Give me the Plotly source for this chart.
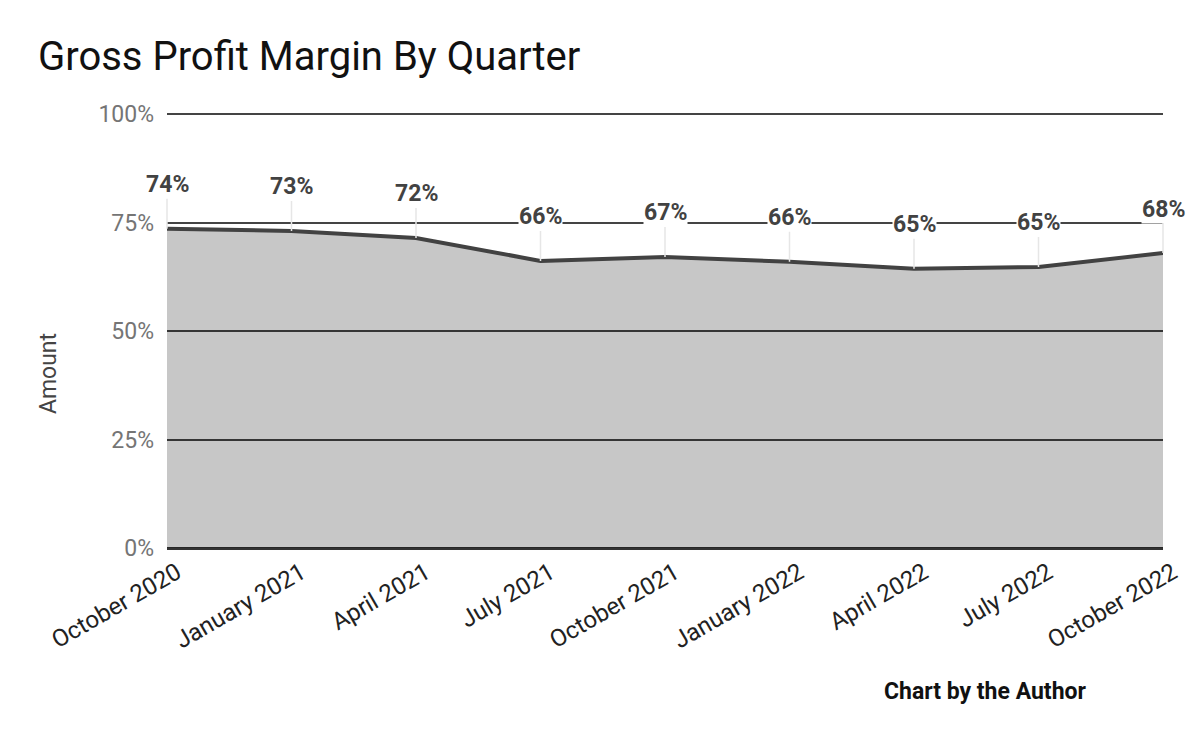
"""Gross profit margin by quarter, area chart (Plotly, saved as HTML)."""

import plotly.graph_objects as go

QUARTERS = [
    "October 2020", "January 2021", "April 2021", "July 2021", "October 2021",
    "January 2022", "April 2022", "July 2022", "October 2022",
]
MARGIN = [73.6, 73.1, 71.5, 66.2, 67.1, 66.0, 64.4, 64.8, 68.0]
LABELS = ["74%", "73%", "72%", "66%", "67%", "66%", "65%", "65%", "68%"]
Y_TICKS = [0, 25, 50, 75, 100]
Y_TICK_TEXT = ["0%", "25%", "50%", "75%", "100%"]

FONT = "Roboto, Arial, sans-serif"

fig = go.Figure(
    go.Scatter(
        x=QUARTERS,
        y=MARGIN,
        mode="lines",
        fill="tozeroy",
        # translucent fill so the gridlines stay visible through it
        fillcolor="rgba(0,0,0,0.22)",
        line=dict(color="#424242", width=4),
        hoverinfo="skip",
    )
)

for q, v, lab in zip(QUARTERS, MARGIN, LABELS):
    fig.add_annotation(
        x=q, y=v, text=f"<b>{lab}</b>",
        showarrow=True, arrowhead=0, arrowwidth=1.5, arrowcolor="#e6e6e6",
        ax=0, ay=-44, standoff=0,
        bgcolor="white", borderpad=0,
        font=dict(family=FONT, size=23, color="#424242"),
    )

fig.add_annotation(
    text="<b>Chart by the Author</b>",
    xref="paper", yref="paper", x=0.821, y=-0.329,
    xanchor="center", yanchor="middle",
    showarrow=False, font=dict(family=FONT, size=23, color="#111111"),
)

# axis title sits below the plot's middle in the original, so place it by hand
fig.add_annotation(
    text="Amount",
    xref="paper", yref="paper", x=-0.1195, y=0.402,
    xanchor="center", yanchor="middle", textangle=-90,
    showarrow=False, font=dict(family=FONT, size=23, color="#444444"),
)

# page body adds an 8px offset, so margins are shifted to compensate
fig.update_layout(
    width=1200,
    height=742,
    margin=dict(l=159, r=45, t=105, b=202),
    paper_bgcolor="white",
    plot_bgcolor="white",
    showlegend=False,
    font=dict(family=FONT),
    title=dict(
        text="Gross Profit Margin By Quarter",
        x=30 / 1200, xanchor="left", xref="container",
        y=1 - 48 / 742, yanchor="middle", yref="container",
        font=dict(family=FONT, size=40, color="#111111"),
    ),
)
fig.update_xaxes(
    type="category",
    range=[0, len(QUARTERS) - 1],
    showgrid=False,
    showline=False,
    zeroline=False,
    tickangle=-30,
    ticks="",
    ticklabelstandoff=5,
    ticklabelshift=10,
    tickfont=dict(family=FONT, size=24, color="#222222"),
)
fig.update_yaxes(
    range=[0, 100.3],
    tickvals=Y_TICKS,
    ticktext=Y_TICK_TEXT,
    showgrid=True,
    gridcolor="#444444",
    gridwidth=1.5,
    zeroline=True,
    zerolinecolor="#333333",
    zerolinewidth=2.5,
    ticks="",
    ticklabelstandoff=12,
    tickfont=dict(family=FONT, size=23, color="#757575"),
)

fig.write_html("out.html")
